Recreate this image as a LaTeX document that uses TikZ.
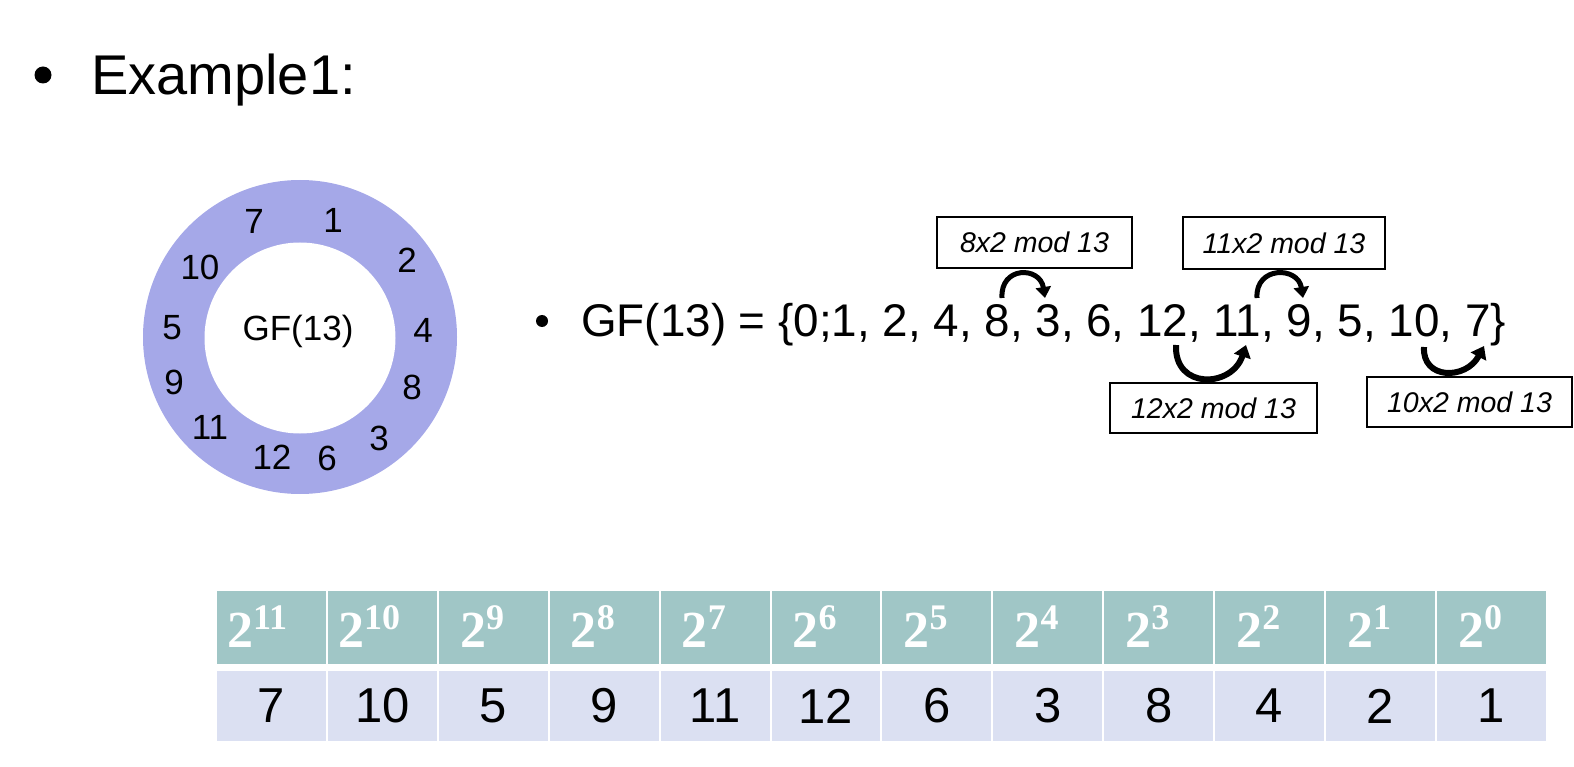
\documentclass[tikz,border=0pt]{standalone}
\usepackage{fontspec}
\setmainfont{Liberation Sans}
\newfontfamily\hdrfont{Liberation Serif}
\usetikzlibrary{arrows.meta}
\definecolor{ringc}{RGB}{165,168,232}
\definecolor{hdrc}{RGB}{160,198,198}
\definecolor{bodyc}{RGB}{219,224,242}
\begin{document}
\begin{tikzpicture}[x=1pt,y=-1pt,
  num/.style={font=\fontsize{35}{35}\selectfont, inner sep=0pt, anchor=base},
  lbl/.style={draw=black, line width=1.5pt, inner sep=0pt, font=\fontsize{28.5}{30}\selectfont\itshape},
  carrow/.style={line width=5pt, -{Triangle[width=15pt,length=11pt]}},
  barrow/.style={line width=6pt, -{Triangle[width=17pt,length=12pt]}},
  hcell/.style={fill=hdrc, draw=white, line width=2pt, minimum width=110.9pt, minimum height=75pt, inner sep=0pt},
  bcell/.style={fill=bodyc, draw=white, line width=2pt, minimum width=110.9pt, minimum height=72pt, inner sep=0pt, font=\fontsize{49}{49}\selectfont},
  htext/.style={anchor=base west, inner sep=0pt, text=white, font=\hdrfont\bfseries\fontsize{52}{52}\selectfont},
  bigtext/.style={anchor=base west, inner sep=0pt}
]
\path[use as bounding box] (0,0) rectangle (1574,767);

% title
\node[circle, fill=black, minimum size=17pt, inner sep=0pt] (bul1) at (43,75) {};
\node[bigtext, font=\fontsize{56}{60}\selectfont] (ex) at (91,95) {Example1:};

% ring
\node[circle, fill=ringc, minimum size=314pt, inner sep=0pt] (ring) at (300,337) {};
\node[circle, fill=white, minimum size=191pt, inner sep=0pt] (hole) at (300,338) {};
\node[num] (gf) at (298,340) {GF(13)};
\node[num] (r7) at (254,233.5) {7};
\node[num] (r1) at (333,232.5) {1};
\node[num] (r2) at (407,272.5) {2};
\node[num] (r4) at (423,342.5) {4};
\node[num] (r8) at (412,399.5) {8};
\node[num] (r3) at (379,450.5) {3};
\node[num] (r6) at (327,470.5) {6};
\node[num] (r12) at (272,469.5) {12};
\node[num] (r11) at (210,439.5) {11};
\node[num] (r9) at (174,394.5) {9};
\node[num] (r5) at (172,339.5) {5};
\node[num] (r10) at (200,279.5) {10};

% GF line
\node[circle, fill=black, minimum size=12pt, inner sep=0pt] (bul2) at (542,321) {};
\node[bigtext, font=\fontsize{45.8}{50}\selectfont] (set) at (581,336) {GF(13) = \{0;1, 2, 4, 8, 3, 6, 12, 11, 9, 5, 10, 7\}};

% label boxes
\node[lbl, minimum width=195pt, minimum height=51pt] (l8) at (1034.5,242.5) {8x2 mod 13};
\node[lbl, minimum width=202pt, minimum height=52pt] (l11) at (1284,243) {11x2 mod 13};
\node[lbl, minimum width=207pt, minimum height=50pt] (l12) at (1213.5,408) {12x2 mod 13};
\node[lbl, minimum width=205pt, minimum height=50pt] (l10) at (1469.5,402) {10x2 mod 13};

% curved arrows
\coordinate (a1s) at (1002,298); \coordinate (a1e) at (1045,298);
\coordinate (a2s) at (1257,298); \coordinate (a2e) at (1303,298);
\coordinate (a3s) at (1176,345); \coordinate (a3e) at (1246,345);
\coordinate (a4s) at (1424,347); \coordinate (a4e) at (1484,346);
\draw[carrow] (a1s) .. controls (1000,266) and (1040,266) .. (a1e);
\draw[carrow] (a2s) .. controls (1255,266) and (1298,266) .. (a2e);
\draw[barrow] (a3s) .. controls (1174,390) and (1232,388) .. (a3e);
\draw[barrow] (a4s) .. controls (1422,380) and (1466,380) .. (a4e);

% table
\foreach \e/\v [count=\i from 0] in {11/7,10/10,9/5,8/9,7/11,6/12,5/6,4/3,3/8,2/4,1/2,0/1} {
  \pgfmathsetmacro\cx{216+110.9*(\i+0.5)}
  \pgfmathsetmacro\pad{\e>9 ? 11 : 22}
  \pgfmathsetmacro\tx{216+110.9*\i+\pad}
  \node[hcell] (h\i) at (\cx,627.5) {};
  \node[bcell] (v\i) at (\cx,706) {\v};
  \node[htext] (t\i) at (\tx,647) {2\raisebox{18pt}{\fontsize{36}{36}\selectfont\e}};
}
\end{tikzpicture}
\end{document}
